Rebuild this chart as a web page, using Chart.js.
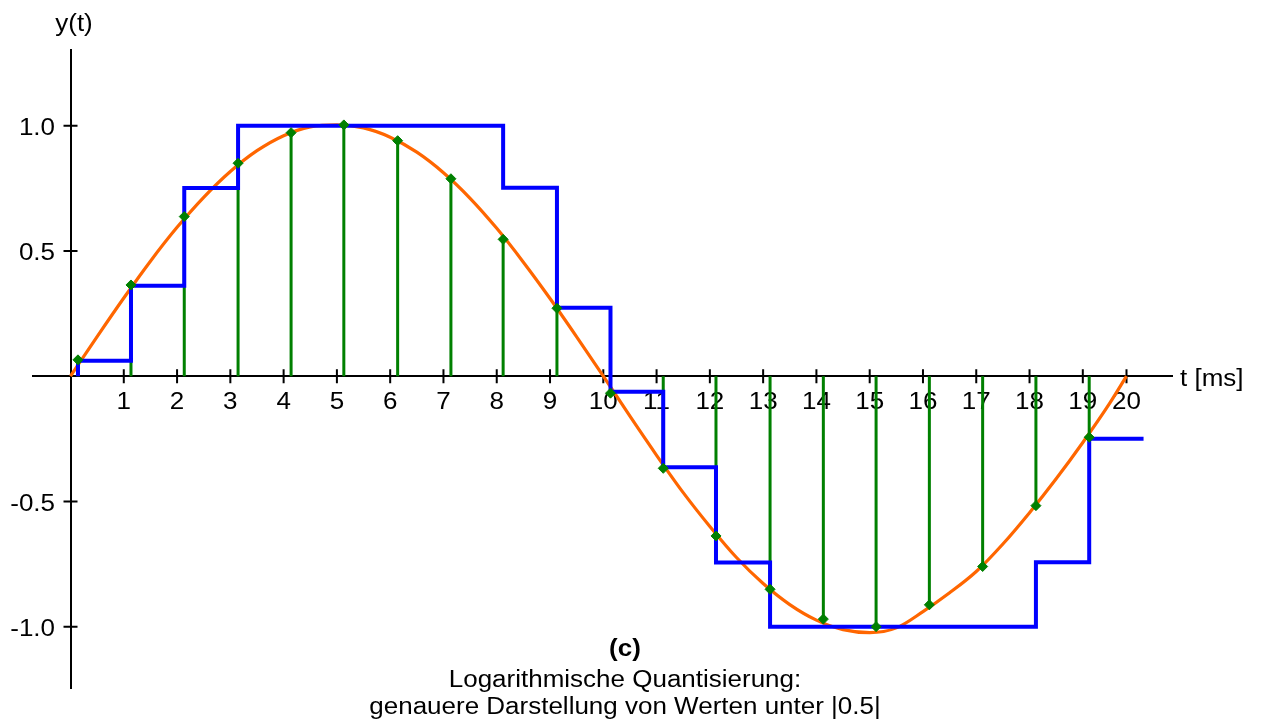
<!DOCTYPE html>
<html>
<head>
<meta charset="utf-8">
<script src="https://cdn.jsdelivr.net/npm/chart.js@4.4.1/dist/chart.umd.min.js"></script>
<style>
html,body{margin:0;padding:0;background:#fff;}
#wrap{width:1261px;height:724px;position:relative;}
</style>
</head>
<body>
<div id="wrap"><canvas id="c"></canvas></div>
<script>
// ---- data ----
const sampleT = [0.14, 1.135, 2.135, 3.145, 4.14, 5.13, 6.14, 7.14, 8.12, 9.13,
                 10.135, 11.125, 12.115, 13.13, 14.13, 15.12, 16.12, 17.12, 18.12, 19.12];
const sampleY = [0.065, 0.364, 0.637, 0.85, 0.972, 1.003, 0.94, 0.788, 0.546, 0.271,
                 -0.068, -0.368, -0.638, -0.851, -0.97, -1.0, -0.913, -0.76, -0.517, -0.244];
const quantY  = [0.061, 0.361, 0.751, 1.0, 1.0, 1.0, 1.0, 1.0, 0.752, 0.273,
                 -0.062, -0.364, -0.744, -1.0, -1.0, -1.0, -1.0, -1.0, -0.743, -0.25];
const holdEndT = 20.14;

const curveT = [0, 0.5, 1, 1.5, 2, 2.5, 3, 3.5, 4, 4.5, 5, 5.5, 6, 6.5, 7, 7.5, 8, 8.5, 9, 9.5,
                10, 10.5, 11, 11.5, 12, 12.5, 13, 13.5, 14, 14.5, 15, 15.5, 16, 16.5, 17, 17.5, 18, 18.5, 19, 19.5, 19.82];
const curveY = [0, 0.158, 0.312, 0.459, 0.594, 0.714, 0.817, 0.90, 0.96, 0.995, 1.003, 0.991, 0.954, 0.894, 0.812, 0.71, 0.59, 0.455, 0.31, 0.157,
                0, -0.16, -0.316, -0.465, -0.60, -0.724, -0.828, -0.912, -0.974, -1.012, -1.024, -1.005, -0.94, -0.865, -0.78, -0.67, -0.545, -0.41, -0.265, -0.11, 0];

const xTickValues = [1, 2, 3, 4, 5, 6, 7, 8, 9, 10, 11, 12, 13, 14, 15, 16, 17, 18, 19, 19.82];
const xTickLabels = ['1','2','3','4','5','6','7','8','9','10','11','12','13','14','15','16','17','18','19','20'];
const yTickValues = [-1, -0.5, 0.5, 1];
const yTickLabels = ['-1.0', '-0.5', '0.5', '1.0'];

const xAxisTitle = 't [ms]';
const yAxisTitle = 'y(t)';
const captionTag = '(c)';
const captionLines = ['Logarithmische Quantisierung:', 'genauere Darstellung von Werten unter |0.5|'];

// ---- build datasets ----
const markerData = sampleT.map((t, i) => ({x: t, y: sampleY[i]}));
const stemData = [];
sampleT.forEach((t, i) => { stemData.push({x: t, y: 0}, {x: t, y: sampleY[i]}, {x: t, y: null}); });
const holdData = [{x: sampleT[0], y: 0}].concat(sampleT.map((t, i) => ({x: t, y: quantY[i]})),
                 [{x: holdEndT, y: quantY[quantY.length - 1]}]);
const curveData = curveT.map((t, i) => ({x: t, y: curveY[i]}));

const FONT = '"Liberation Sans", Arial, Helvetica, sans-serif';
const TEXT_STRETCH = 1.13;

function stretchedText(ctx, text, x, y, align) {
  ctx.save();
  ctx.translate(x, y);
  ctx.scale(TEXT_STRETCH, 1);
  ctx.textAlign = align;
  ctx.textBaseline = 'alphabetic';
  ctx.fillText(text, 0, 0);
  ctx.restore();
}

const decor = {
  id: 'decor',
  beforeDatasetsDraw(chart) {
    const ctx = chart.ctx, xs = chart.scales.x, ys = chart.scales.y;
    const x0 = xs.getPixelForValue(0), y0 = ys.getPixelForValue(0);
    ctx.save();
    ctx.strokeStyle = '#000';
    ctx.lineWidth = 2;
    ctx.beginPath();
    xs.ticks.forEach(t => { const p = xs.getPixelForValue(t.value); ctx.moveTo(p, y0 - 7); ctx.lineTo(p, y0 + 7); });
    ys.ticks.forEach(t => { const p = ys.getPixelForValue(t.value); ctx.moveTo(x0 - 7, p); ctx.lineTo(x0 + 7, p); });
    ctx.stroke();
    ctx.fillStyle = '#000';
    ctx.font = '23px ' + FONT;
    xs.ticks.forEach((t, i) => stretchedText(ctx, xTickLabels[i], xs.getPixelForValue(t.value), y0 + 33, 'center'));
    ys.ticks.forEach((t, i) => stretchedText(ctx, yTickLabels[i], x0 - 15.5, ys.getPixelForValue(t.value) + 9.5, 'right'));
    ctx.restore();
  },
  afterDraw(chart) {
    const ctx = chart.ctx, xs = chart.scales.x, ys = chart.scales.y;
    const x0 = xs.getPixelForValue(0), y0 = ys.getPixelForValue(0);
    ctx.save();
    ctx.fillStyle = '#000';
    ctx.font = '23px ' + FONT;
    stretchedText(ctx, yAxisTitle, x0 + 3.5, 30.5, 'center');
    stretchedText(ctx, xAxisTitle, chart.chartArea.right + 8, y0 + 10, 'left');
    const cx = 625;
    ctx.font = 'bold 23px ' + FONT;
    stretchedText(ctx, captionTag, cx, 656, 'center');
    ctx.font = '23px ' + FONT;
    captionLines.forEach((l, i) => stretchedText(ctx, l, cx, 687 + i * 27, 'center'));
    ctx.restore();
  }
};

new Chart(document.getElementById('c'), {
  type: 'line',
  data: {
    datasets: [
      { label: 'samples', data: markerData, showLine: false, pointStyle: 'rectRot', pointRadius: 5,
        pointBackgroundColor: '#008000', pointBorderColor: '#008000', pointBorderWidth: 1 },
      { label: 'quantized', data: holdData, stepped: true, borderColor: '#0000ff', borderWidth: 4,
        pointRadius: 0, fill: false, borderJoinStyle: 'miter', borderCapStyle: 'butt' },
      { label: 'stems', data: stemData, borderColor: '#008000', borderWidth: 3, pointRadius: 0,
        fill: false, spanGaps: false },
      { label: 'signal', data: curveData, borderColor: '#ff6600', borderWidth: 3.2, pointRadius: 0,
        fill: false, cubicInterpolationMode: 'monotone' }
    ]
  },
  options: {
    responsive: true,
    maintainAspectRatio: false,
    animation: false,
    events: [],
    layout: { padding: { left: 33, right: 89, top: 50, bottom: 36 } },
    plugins: { legend: { display: false }, tooltip: { enabled: false }, title: { display: false } },
    scales: {
      x: {
        type: 'linear', min: -0.704, max: 20.674,
        position: { y: 0 },
        grid: { display: false, drawTicks: false },
        border: { display: true, color: '#000', width: 2 },
        afterBuildTicks: s => { s.ticks = xTickValues.map(v => ({value: v})); },
        ticks: { display: false, autoSkip: false, maxRotation: 0,
                 callback: (v, i) => xTickLabels[i] }
      },
      y: {
        type: 'linear', min: -1.245, max: 1.302,
        position: { x: 0 },
        grid: { display: false, drawTicks: false },
        border: { display: true, color: '#000', width: 2 },
        afterBuildTicks: s => { s.ticks = yTickValues.map(v => ({value: v})); },
        ticks: { display: false, autoSkip: false,
                 callback: (v, i) => yTickLabels[i] }
      }
    }
  },
  plugins: [decor]
});
</script>
</body>
</html>
